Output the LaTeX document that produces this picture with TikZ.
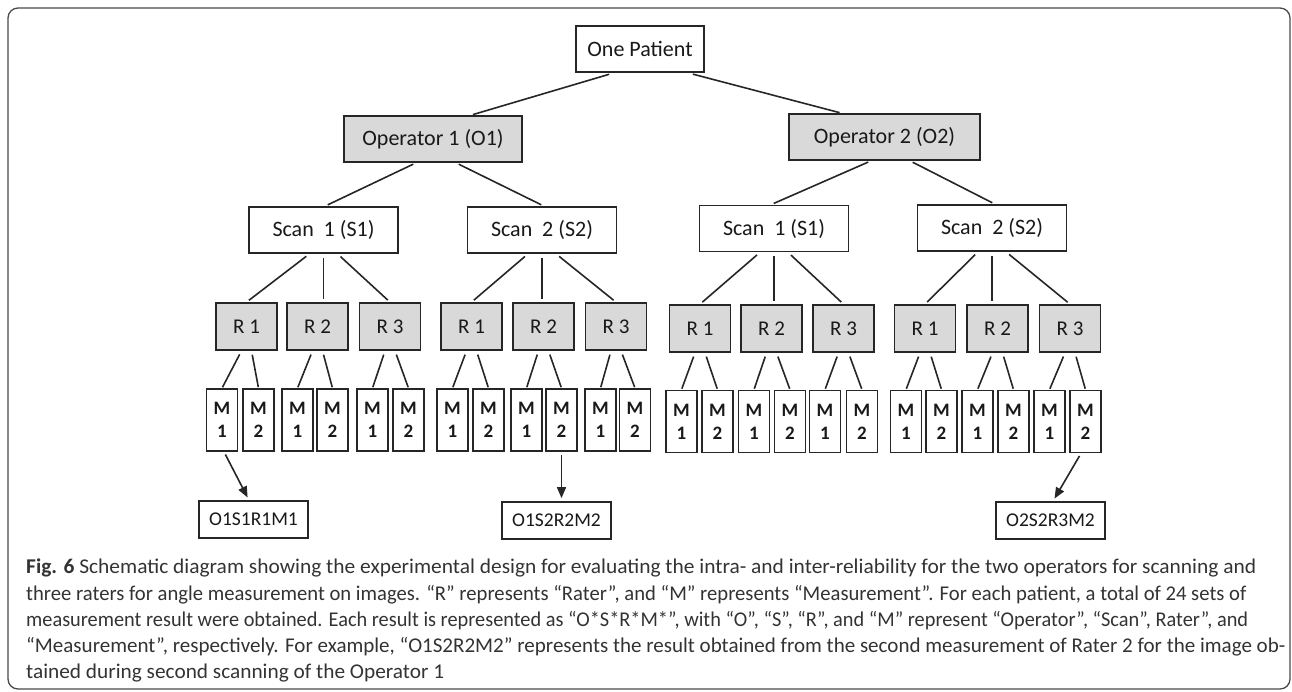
\documentclass[tikz,border=0pt]{standalone}
\usepackage{graphicx}
\usepackage{fontspec}
\setmainfont{Carlito}
\newfontfamily\capfont{Carlito}
\usetikzlibrary{arrows.meta,calc}
\definecolor{boxfill}{HTML}{D9D9D9}
\definecolor{edgecol}{HTML}{262626}
\definecolor{captext}{HTML}{333333}
\definecolor{framecol}{HTML}{4A4A4A}
\newcommand{\capline}[2]{\resizebox{#1pt}{\height}{#2}}
\tikzset{
  basebox/.style={draw=edgecol, line width=1.7pt, inner sep=0pt, text=black!90},
  wbox/.style={basebox, fill=white, minimum height=46pt, font=\fontsize{22}{24}\selectfont},
  gbox/.style={basebox, fill=boxfill, minimum height=46pt, font=\fontsize{22}{24}\selectfont},
  rbox/.style={basebox, fill=boxfill, minimum width=61pt, minimum height=47pt, font=\fontsize{21}{24}\selectfont},
  mbox/.style={basebox, fill=white, minimum width=31pt, minimum height=62pt, align=center, font=\fontsize{19}{23}\selectfont\bfseries},
  resbox/.style={basebox, fill=white, minimum width=109pt, minimum height=37pt, font=\fontsize{19.5}{22}\selectfont},
  link/.style={draw=edgecol, line width=1.6pt},
  arrowlink/.style={link, -{Triangle[length=11pt,width=9pt]}},
  captxt/.style={anchor=base west, inner sep=0pt, text=captext, font=\capfont\fontsize{21}{26}\selectfont}
}
\begin{document}
\begin{tikzpicture}[x=1pt,y=-1pt]
\useasboundingbox (0,0) rectangle (1292,691);
\draw[framecol, line width=1.3pt, rounded corners=10pt] (8,8) rectangle (1290,689);

% top levels
\node[wbox, minimum width=128pt] (pat) at (640,49) {One Patient};
\node[gbox, minimum width=178pt] (o1) at (433,139) {Operator 1 (O1)};
\node[gbox, minimum width=191pt] (o2) at (884.5,137) {Operator 2 (O2)};
\node[wbox, minimum width=149pt] (s1) at (323.5,230) {Scan\ \ 1 (S1)};
\node[wbox, minimum width=149pt] (s2) at (542,230) {Scan\ \ 2 (S2)};
\node[wbox, minimum width=149pt] (s3) at (774,228.5) {Scan\ \ 1 (S1)};
\node[wbox, minimum width=149pt] (s4) at (992,228) {Scan\ \ 2 (S2)};

% raters
\foreach \x [count=\i] in {246.5,317.5,390,471.5,543.5,616}{
  \pgfmathtruncatemacro{\k}{mod(\i-1,3)+1}
  \node[rbox] (r\i) at (\x,326.5) {R \k};
}
\foreach \x [count=\i from 7] in {700,771.5,843.5,925,997.5,1070}{
  \pgfmathtruncatemacro{\k}{mod(\i-1,3)+1}
  \node[rbox] (r\i) at (\x,328.5) {R \k};
}
% measurements
\foreach \x [count=\i] in {222,258.5,297.5,332.5,372.5,408.5,452.5,488.5,526.5,561.5,600.5,635}{
  \pgfmathtruncatemacro{\k}{mod(\i-1,2)+1}
  \node[mbox] (m\i) at (\x,420) {M\\\k};
}
\foreach \x [count=\i from 13] in {681.5,717.5,754,790,825,862,906,941.5,977.5,1013.5,1049.5,1085.5}{
  \pgfmathtruncatemacro{\k}{mod(\i-1,2)+1}
  \node[mbox] (m\i) at (\x,421.5) {M\\\k};
}
% results
\node[resbox] (res1) at (253.5,519.5) {O1S1R1M1};
\node[resbox] (res2) at (556.5,520.5) {O1S2R2M2};
\node[resbox] (res3) at (1050.5,520.5) {O2S2R3M2};

% connectors
\draw[link, shorten <=5pt, shorten >=2pt] ([xshift=-26pt]pat.south) -- ([xshift=38pt]o1.north);
\draw[link, shorten <=5pt, shorten >=2pt] ([xshift=48pt]pat.south) -- ([xshift=-43pt]o2.north);
\draw[link, shorten <=3pt, shorten >=3pt] ([xshift=-17pt]o1.south) -- ([xshift=1.5pt]s1.north);
\draw[link, shorten <=3pt, shorten >=3pt] ([xshift=23pt]o1.south) -- ([xshift=2pt]s2.north);
\draw[link, shorten <=3pt, shorten >=3pt] ([xshift=-13.5pt]o2.south) -- ([xshift=-3pt]s3.north);
\draw[link, shorten <=3pt, shorten >=3pt] ([xshift=25.5pt]o2.south) -- ([xshift=3pt]s4.north);

\foreach \s/\a/\b/\c in {s1/r1/r2/r3, s2/r4/r5/r6, s3/r7/r8/r9, s4/r10/r11/r12}{
  \draw[link, shorten <=4pt, shorten >=3pt] ([xshift=-14pt]\s.south) -- (\a.north);
  \draw[link, shorten <=4pt, shorten >=3pt] (\s.south) -- (\s.south |- \b.north);
  \draw[link, shorten <=4pt, shorten >=3pt] ([xshift=14pt]\s.south) -- (\c.north);
}
\foreach \i in {1,...,12}{
  \pgfmathtruncatemacro{\a}{2*\i-1}
  \pgfmathtruncatemacro{\b}{2*\i}
  \draw[link, shorten <=4pt, shorten >=1pt] ([xshift=-5pt]r\i.south) -- (m\a.north);
  \draw[link, shorten <=4pt, shorten >=1pt] ([xshift=5pt]r\i.south) -- (m\b.north);
}
\draw[arrowlink, shorten <=3pt, shorten >=3pt] ([xshift=2pt]m1.south) -- ([xshift=-4.5pt]res1.north);
\draw[arrowlink, shorten <=3pt, shorten >=3pt] (m10.south) -- (m10.south |- res2.north);
\draw[arrowlink, shorten <=3pt, shorten >=3pt] ([xshift=-4.5pt]m24.south) -- ([xshift=2.5pt]res3.north);

% caption
\node[captxt] (c1) at (26,573) {\capline{1230}{{\bfseries Fig. 6} Schematic diagram showing the experimental design for evaluating the intra- and inter-reliability for the two operators for scanning and}};
\node[captxt] (c2) at (26,600) {\capline{1220}{three raters for angle measurement on images. “R” represents “Rater”, and “M” represents “Measurement”. For each patient, a total of 24 sets of}};
\node[captxt] (c3) at (26,626) {\capline{1222}{measurement result were obtained. Each result is represented as “O*S*R*M*”, with “O”, “S”, “R”, and “M” represent “Operator”, “Scan”, Rater”, and}};
\node[captxt] (c4) at (26,652) {\capline{1259}{“Measurement”, respectively. For example, “O1S2R2M2” represents the result obtained from the second measurement of Rater 2 for the image ob-}};
\node[captxt] (c5) at (26,678) {\capline{418}{tained during second scanning of the Operator 1}};
\end{tikzpicture}
\end{document}
